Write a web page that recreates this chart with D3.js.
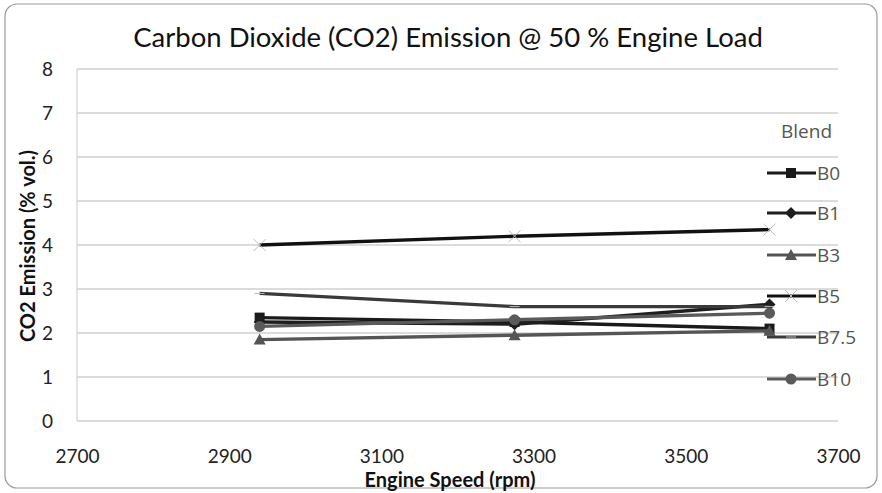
<!DOCTYPE html>
<html><head><meta charset="utf-8">
<script src="https://cdn.jsdelivr.net/npm/d3@7"></script>
<style>body{margin:0;background:#fff;} svg{display:block;}</style>
</head><body>
<script>
const speeds = [2940, 3275, 3610];
const seriesNames = ["B0", "B1", "B3", "B5", "B7.5", "B10"];
const B0 = [2.35, 2.25, 2.1];
const B1 = [2.25, 2.2, 2.65];
const B3 = [1.85, 1.95, 2.05];
const B5 = [4.0, 4.2, 4.35];
const B75 = [2.9, 2.6, 2.6];
const B10 = [2.15, 2.3, 2.45];
const xTicks = [2700, 2900, 3100, 3300, 3500, 3700];
const yTicks = [0, 1, 2, 3, 4, 5, 6, 7, 8];

const seriesValues = [B0, B1, B3, B5, B75, B10];
const colors = ["#1a1a1a", "#1e1e1e", "#555", "#111", "#3a3a3a", "#5a5a5a"];
const markers = ["square", "diamond", "triangle", "x", "dash", "circle"];

const W = 882, H = 493;
const svg = d3.select("body").append("svg").attr("width", W).attr("height", H);
const font = "Lato, 'Open Sans', sans-serif";
const legFont = "'Open Sans', sans-serif";

svg.append("rect").attr("x", 5).attr("y", 4).attr("width", 872).attr("height", 484)
  .attr("rx", 12).attr("fill", "#fff").attr("stroke", "#999").attr("stroke-width", 1.2);

const x = d3.scaleLinear().domain([2700, 3700]).range([77, 838]);
const y = d3.scaleLinear().domain([0, 8]).range([421, 69]);

// gridlines
svg.append("g").selectAll("line").data(yTicks).join("line")
  .attr("x1", x(2700)).attr("x2", x(3700))
  .attr("y1", d => y(d)).attr("y2", d => y(d))
  .attr("stroke", "#b8b8b8").attr("stroke-width", 1);
svg.append("line").attr("x1", x(2700)).attr("x2", x(2700)).attr("y1", y(8)).attr("y2", y(0))
  .attr("stroke", "#c8c8c8");

// axes labels
const yAxis = svg.append("g").attr("transform", `translate(${x(2700)},0)`)
  .call(d3.axisLeft(y).tickValues(yTicks).tickSize(0).tickPadding(24).tickFormat(d3.format("d")));
yAxis.select(".domain").remove();
yAxis.selectAll("text").attr("font-family", font).attr("font-size", 19).attr("fill", "#222");

const xAxis = svg.append("g").attr("transform", `translate(0,${y(0)})`)
  .call(d3.axisBottom(x).tickValues(xTicks).tickSize(0).tickPadding(29).tickFormat(d3.format("d")));
xAxis.select(".domain").remove();
xAxis.selectAll("text").attr("font-family", font).attr("font-size", 19).attr("fill", "#222");

// title
svg.append("text").attr("x", 448).attr("y", 47).attr("text-anchor", "middle")
  .attr("font-family", font).attr("font-size", 27.5).attr("fill", "#111")
  .text("Carbon Dioxide (CO2) Emission @ 50 % Engine Load");

svg.append("text").attr("x", 450).attr("y", 487).attr("text-anchor", "middle")
  .attr("font-family", font).attr("font-size", 20).attr("font-weight", "bold").attr("fill", "#111")
  .text("Engine Speed (rpm)");

svg.append("text").attr("transform", "translate(35,246) rotate(-90)").attr("text-anchor", "middle")
  .attr("font-family", font).attr("font-size", 20).attr("font-weight", "bold").attr("fill", "#111")
  .text("CO2 Emission (% vol.)");

function drawMarker(g, type, cx, cy, color) {
  if (type === "square") g.append("rect").attr("x", cx - 5).attr("y", cy - 5).attr("width", 10).attr("height", 10).attr("fill", color);
  else if (type === "diamond") g.append("path").attr("d", `M${cx},${cy-6}L${cx+6},${cy}L${cx},${cy+6}L${cx-6},${cy}Z`).attr("fill", color);
  else if (type === "triangle") g.append("path").attr("d", `M${cx},${cy-6}L${cx+6},${cy+5}L${cx-6},${cy+5}Z`).attr("fill", color);
  else if (type === "circle") g.append("circle").attr("cx", cx).attr("cy", cy).attr("r", 5.5).attr("fill", color);
  else if (type === "x") g.append("path").attr("d", `M${cx-6},${cy-6}L${cx+6},${cy+6}M${cx-6},${cy+6}L${cx+6},${cy-6}`).attr("stroke", "#bbb").attr("stroke-width", 1);
  else if (type === "dash") g.append("path").attr("d", `M${cx-5},${cy}L${cx+5},${cy}`).attr("stroke", "#bbb").attr("stroke-width", 1);
}

const line = d3.line().x(d => x(d[0])).y(d => y(d[1]));
seriesValues.forEach((vals, i) => {
  const g = svg.append("g");
  const pts = speeds.map((s, j) => [s, vals[j]]);
  g.append("path").attr("d", line(pts)).attr("fill", "none")
    .attr("stroke", colors[i]).attr("stroke-width", 3.4);
  pts.forEach(p => drawMarker(g, markers[i], x(p[0]), y(p[1]), colors[i]));
});

// legend
svg.append("text").attr("x", 781).attr("y", 138).attr("font-family", legFont).attr("font-size", 19)
  .attr("fill", "#555").text("Blend");
const legY = [173, 213, 255, 296, 337, 379];
seriesNames.forEach((n, i) => {
  const g = svg.append("g");
  g.append("line").attr("x1", 767).attr("x2", 816).attr("y1", legY[i]).attr("y2", legY[i])
    .attr("stroke", colors[i]).attr("stroke-width", 3);
  drawMarker(g, markers[i], 791, legY[i], colors[i]);
  g.append("text").attr("x", 817).attr("y", legY[i] + 7).attr("font-family", legFont).attr("font-size", 19)
    .attr("fill", "#555").text(n);
});
</script>
</body></html>
